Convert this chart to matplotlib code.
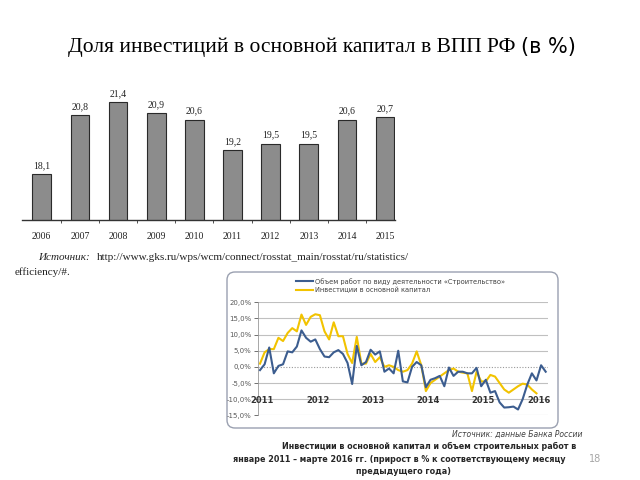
import numpy as np
import matplotlib.pyplot as plt
from matplotlib.patches import FancyBboxPatch
from matplotlib.ticker import FuncFormatter, FixedLocator

# bar chart: share of fixed investment in GDP
years = ['2006', '2007', '2008', '2009', '2010', '2011', '2012', '2013', '2014', '2015']
share = [18.1, 20.8, 21.4, 20.9, 20.6, 19.2, 19.5, 19.5, 20.6, 20.7]

# line chart: monthly growth, Jan 2011 - Mar 2016
construction = [-1.0, 0.8, 6.0, -2.0, 0.3, 0.8, 4.8, 4.5, 6.3, 11.3, 9.0, 7.8,
                8.5, 5.5, 3.2, 3.0, 4.5, 5.2, 4.0, 1.2, -5.3, 6.5, 0.5, 1.5,
                5.3, 3.8, 4.8, -1.5, -0.5, -2.0, 5.0, -4.5, -4.8, 0.0, 1.5, 0.5,
                -6.3, -4.0, -3.5, -2.8, -6.0, -0.2, -2.8, -1.5, -1.5, -2.0, -2.0, -0.3,
                -6.0, -4.0, -8.0, -7.5, -11.0, -12.6, -12.5, -12.3, -13.2, -10.0, -5.5, -2.0,
                -4.2, 0.5, -1.5]
investment = [1.0, 4.5, 5.5, 5.5, 9.0, 8.0, 10.5, 12.0, 11.0, 16.2, 13.0, 15.5,
              16.3, 16.0, 11.0, 8.5, 13.8, 9.5, 9.5, 4.0, 1.2, 9.3, 1.0, 1.0,
              4.0, 1.5, 3.0, 0.0, 0.5, 0.0, -1.0, -1.5, -1.0, 1.0, 4.8, 0.5,
              -7.5, -5.0, -4.0, -3.0, -2.0, -1.0, -0.5, -1.5, -1.8, -2.0, -7.5, -1.5,
              -4.5, -4.5, -2.5, -3.0, -5.0, -7.0, -8.0, -7.0, -6.0, -5.2, -5.5, -7.0,
              -8.2]
year_labels = ['2011', '2012', '2013', '2014', '2015', '2016']
series_names = ['Объем работ по виду деятельности «Строительство»',
                'Инвестиции в основной капитал']

W, H = 640, 480
fig = plt.figure(figsize=(6.4, 4.8), dpi=100)
fig.patch.set_facecolor('white')

def box(l, t, r, b):
    return [l / W, 1 - b / H, (r - l) / W, (b - t) / H]

serif = 'Liberation Serif'
sans = 'DejaVu Sans'

# title
fig.text(516 / W, 1 - 47 / H, 'Доля инвестиций в основной капитал в ВПП РФ',
         family=serif, fontsize=15.5, ha='right', va='center')
fig.text(521 / W, 1 - 47 / H, '(в %)', family=sans, fontsize=15,
         ha='left', va='center')

# ---- bar chart ----
ax1 = fig.add_axes(box(21.7, 85, 395, 220))
x = np.arange(len(years))
bars = ax1.bar(x, share, width=0.49, bottom=0, color='#8c8c8c',
               edgecolor='#2a2a2a', linewidth=0.8)
ax1.set_ylim(16, 16 + 135 / 21.82)
ax1.set_xlim(-0.525, 9.26)
ax1.bar_label(bars, labels=[f'{v:.1f}'.replace('.', ',') for v in share],
              padding=3, fontsize=7, family=serif, color='#222')
for s in ['top', 'right', 'left']:
    ax1.spines[s].set_visible(False)
ax1.spines['bottom'].set_color('#333')
ax1.spines['bottom'].set_linewidth(1.0)
ax1.set_yticks([])
ax1.set_xticks(x)
ax1.set_xticklabels(years, family=serif, fontsize=7, color='#222')
ax1.tick_params(axis='x', length=0, pad=9)
ax1.xaxis.set_minor_locator(FixedLocator(list(x[:-1] + 0.5)))
ax1.tick_params(axis='x', which='minor', length=2.5, color='#333', direction='out')

fig.text(38 / W, 1 - 258 / H, 'Источник:', family=serif, style='italic',
         fontsize=8, ha='left', va='center', color='#222')
fig.text(409 / W, 1 - 258 / H,
         'http://www.gks.ru/wps/wcm/connect/rosstat_main/rosstat/ru/statistics/',
         family=serif, fontsize=8, ha='right', va='center', color='#222')
fig.text(15 / W, 1 - 272 / H, 'efficiency/#.', family=serif, fontsize=8,
         ha='left', va='center', color='#222')

# ---- line chart ----
frame = FancyBboxPatch((2.27, 0.52), 3.31, 1.56,
                       boxstyle='round,pad=0,rounding_size=0.08',
                       transform=fig.dpi_scale_trans, facecolor='white',
                       edgecolor='#9aa0b0', linewidth=1.0, zorder=-1)
fig.patches.append(frame)

ax2 = fig.add_axes(box(257.7, 302.3, 548, 415.3))
ax2.patch.set_alpha(0)
m1 = np.arange(len(construction))
m2 = np.arange(len(investment))
ax2.plot(m1, construction, color='#3c5d8f', lw=1.5, label=series_names[0], zorder=3)
ax2.plot(m2, investment, color='#f2c300', lw=1.5, label=series_names[1], zorder=2)
ax2.set_ylim(-15, 20)
ax2.set_xlim(-0.5, 62.5)
ax2.set_yticks(range(-15, 25, 5))
ax2.yaxis.set_major_formatter(FuncFormatter(lambda v, p: f'{v:.1f}%'.replace('.', ',')))
ax2.tick_params(axis='y', labelsize=5, colors='#595959', length=3, width=0.6, pad=1.5)
ax2.set_xticks([])
ax2.grid(axis='y', color='#c0c0c0', lw=0.8)
for gl, v in zip(ax2.get_ygridlines(), range(-15, 25, 5)):
    if v == 0:
        gl.set_linestyle((0, (1, 1.5)))
        gl.set_color('#999')
for s in ['top', 'right', 'bottom']:
    ax2.spines[s].set_visible(False)
ax2.spines['left'].set_color('#999')
ax2.spines['left'].set_linewidth(0.6)
for i, lab in enumerate(year_labels):
    ax2.text(i * 12 + 0.5, -10.3, lab, fontsize=6, fontweight='bold',
             color='#333', ha='center', va='center', family=sans, zorder=4)

fig.legend(loc='upper left', bbox_to_anchor=(296 / W, 1 - 278 / H),
           frameon=False, fontsize=4.8, handlelength=2.6, labelspacing=0.25,
           handletextpad=0.2, borderaxespad=0, borderpad=0,
           labelcolor='#404040')

fig.text(582 / W, 1 - 434 / H, 'Источник: данные Банка России', family=sans,
         style='italic', fontsize=5.5, ha='right', va='center', color='#404040')
fig.text(282 / W, 1 - 446 / H,
         'Инвестиции в основной капитал и объем строительных работ в',
         family=sans, fontweight='bold', fontsize=5.8, ha='left', va='center',
         color='#262626')
fig.text(233 / W, 1 - 459 / H,
         'январе 2011 – марте 2016 гг. (прирост в % к соответствующему месяцу',
         family=sans, fontweight='bold', fontsize=5.8, ha='left', va='center',
         color='#262626')
fig.text(404 / W, 1 - 471 / H, 'предыдущего года)', family=sans,
         fontweight='bold', fontsize=5.8, ha='center', va='center',
         color='#262626')
fig.text(595 / W, 1 - 459 / H, '18', family=sans, fontsize=7,
         ha='center', va='center', color='#a6a6a6')

fig.savefig('out.png', dpi=100)
